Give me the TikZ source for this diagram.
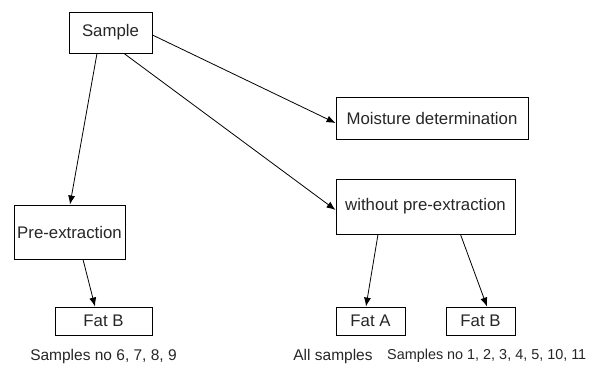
\documentclass[tikz,border=0pt]{standalone}
\usepackage{fontspec}
\setmainfont{Liberation Sans}
\usetikzlibrary{arrows.meta}
\begin{document}
\begin{tikzpicture}[x=1pt,y=-1pt,
  box/.style={draw,line width=0.9pt,rectangle,inner sep=0pt,font=\fontsize{16.8}{20}\selectfont,text=black!85},
  lbl/.style={inner sep=0pt,font=\fontsize{15.5}{18}\selectfont,text=black!85},
  arr/.style={line width=0.8pt,-{Latex[length=9pt,width=7pt]}}]
\useasboundingbox (0,0) rectangle (590,366);
\node[box,minimum width=83pt,minimum height=41pt] (s) at (110.5,32.5) {Sample};
\node[box,minimum width=192pt,minimum height=42pt] (m) at (432,118) {Moisture determination};
\node[box,minimum width=179pt,minimum height=55pt] (wo) at (425.5,206.5) {without pre-extraction};
\node[box,minimum width=111pt,minimum height=54pt] (pre) at (69.5,232) {Pre-extraction};
\node[box,minimum width=97pt,minimum height=28pt] (fbl) at (103.5,321) {Fat B};
\node[box,minimum width=69pt,minimum height=28pt] (fa) at (370.5,321) {Fat A};
\node[box,minimum width=69pt,minimum height=28pt] (fbr) at (480.5,321) {Fat B};
\node[lbl] (l1) at (103.5,356) {Samples no 6, 7, 8, 9};
\node[lbl] (l2) at (333,356) {All samples};
\node[lbl,anchor=west,font=\fontsize{14.4}{18}\selectfont] (l3) at (387,356) {Samples no 1, 2, 3, 4, 5, 10, 11};
\draw[arr] ([xshift=-13.5pt]s.south) -- ([xshift=0.5pt]pre.north);
\draw[arr] ([xshift=13.5pt]s.south) -- ([yshift=-3.5pt]wo.west);
\draw[arr] ([yshift=-2.5pt]s.east) -- ([yshift=-5pt]m.west);
\draw[arr] ([xshift=13.5pt]pre.south) -- ([xshift=-8.5pt]fbl.north);
\draw[arr] ([xshift=-47.5pt]wo.south) -- ([xshift=-4.5pt]fa.north);
\draw[arr] ([xshift=35pt]wo.south) -- ([xshift=6.5pt]fbr.north);
\end{tikzpicture}
\end{document}
